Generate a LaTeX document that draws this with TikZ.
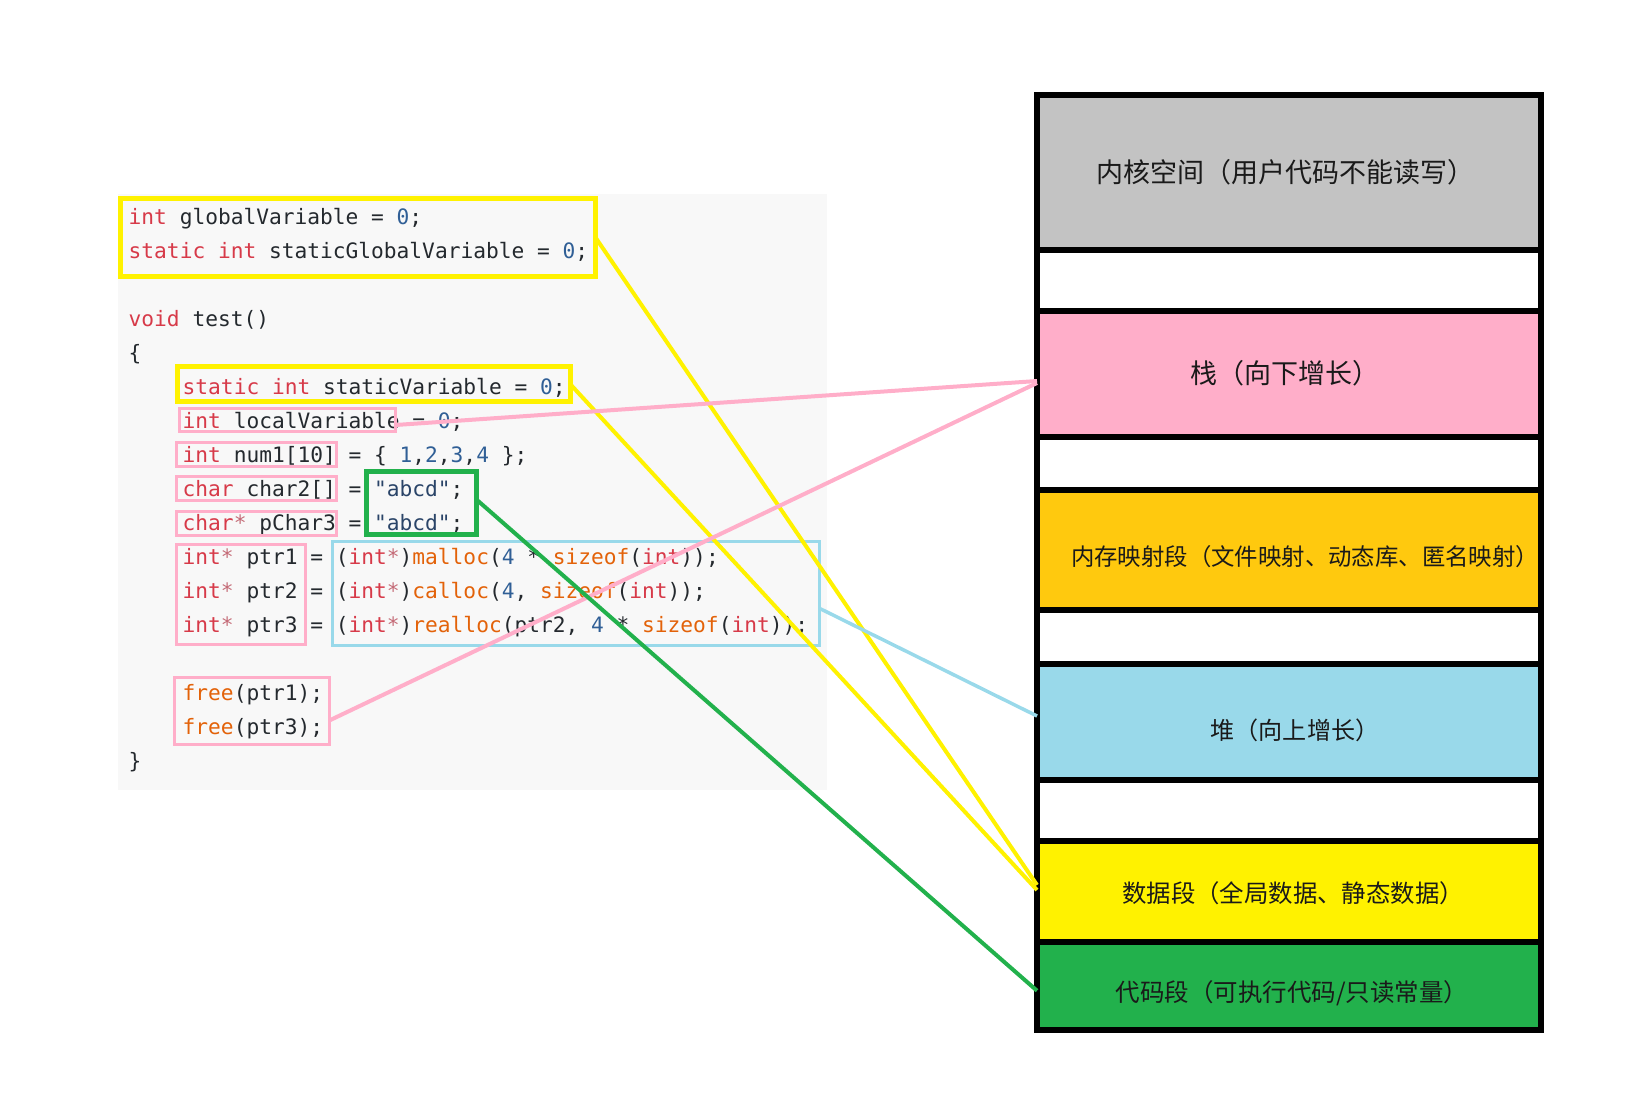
\documentclass[tikz,border=0pt]{standalone}
\usepackage{fontspec}
\newfontfamily\codefont[WordSpace={1,0,0}]{DejaVu Sans Mono}
\newfontfamily\cjk{Noto Sans CJK SC}
\definecolor{codebg}{HTML}{F8F8F8}
\definecolor{codetxt}{HTML}{24292E}
\definecolor{kwred}{HTML}{D73A49}
\definecolor{fnorange}{HTML}{E36209}
\definecolor{numblue}{HTML}{305F96}
\definecolor{strblue}{HTML}{2A4468}
\definecolor{starpink}{HTML}{C46A76}
\definecolor{myyellow}{HTML}{FFF200}
\definecolor{mypink}{HTML}{FFAEC9}
\definecolor{mygreen}{HTML}{22B14C}
\definecolor{myblue}{HTML}{99D9EA}
\definecolor{mygray}{HTML}{C3C3C3}
\definecolor{myorange}{HTML}{FFC90E}
\definecolor{labtxt}{HTML}{1A1A1A}
\newcommand\ckw[1]{\textcolor{kwred}{#1}}
\newcommand\cfn[1]{\textcolor{fnorange}{#1}}
\newcommand\cnum[1]{\textcolor{numblue}{#1}}
\newcommand\cstr[1]{\textcolor{strblue}{#1}}
\newcommand\cstar{\textcolor{starpink}{*}}
\begin{document}
\begin{tikzpicture}[x=1pt,y=-1pt,
  codeline/.style={anchor=base west, inner sep=0pt, outer sep=0pt,
    font=\codefont\fontsize{21.2}{34}\selectfont, text=codetxt},
  cbox/.style={draw, inner sep=0pt, outer sep=0pt, anchor=north west},
  ybox/.style={cbox, draw=myyellow, line width=5pt},
  pbox/.style={cbox, draw=mypink, line width=3pt},
  gbox/.style={cbox, draw=mygreen, line width=5pt},
  bbox/.style={cbox, draw=myblue, line width=3pt},
  seg/.style={draw=black, line width=6pt, inner sep=0pt, outer sep=0pt,
    anchor=north west, minimum width=504pt},
  lab/.style={inner sep=0pt, text=labtxt},
  conn/.style={line width=4pt}
]
\useasboundingbox (0,0) rectangle (1647,1103);
% code background
\fill[codebg] (118,194) rectangle (827,790);
% code lines
\node[codeline] (l0) at (128.7,224) {\ckw{int} globalVariable = \cnum{0};};
\node[codeline] (l1) at (128.7,258) {\ckw{static} \ckw{int} staticGlobalVariable = \cnum{0};};
\node[codeline] (l3) at (128.7,326) {\ckw{void} test()};
\node[codeline] (l4) at (128.7,360) {\{};
\node[codeline] (l5) at (182.7,394) {\ckw{static} \ckw{int} staticVariable = \cnum{0};};
\node[codeline] (l6) at (182.7,428) {\ckw{int} localVariable = \cnum{0};};
\node[codeline] (l7) at (182.7,462) {\ckw{int} num1[10] = \{ \cnum{1},\cnum{2},\cnum{3},\cnum{4} \};};
\node[codeline] (l8) at (182.7,496) {\ckw{char} char2[] = \cstr{"abcd"};};
\node[codeline] (l9) at (182.7,530) {\ckw{char}\cstar{} pChar3 = \cstr{"abcd"};};
\node[codeline] (l10) at (182.7,564) {\ckw{int}\cstar{} ptr1 = (\ckw{int}\cstar{})\cfn{malloc}(\cnum{4} * \cfn{sizeof}(\ckw{int}));};
\node[codeline] (l11) at (182.7,598) {\ckw{int}\cstar{} ptr2 = (\ckw{int}\cstar{})\cfn{calloc}(\cnum{4}, \cfn{sizeof}(\ckw{int}));};
\node[codeline] (l12) at (182.7,632) {\ckw{int}\cstar{} ptr3 = (\ckw{int}\cstar{})\cfn{realloc}(ptr2, \cnum{4} * \cfn{sizeof}(\ckw{int}));};
\node[codeline] (l14) at (182.7,700) {\cfn{free}(ptr1);};
\node[codeline] (l15) at (182.7,734) {\cfn{free}(ptr3);};
\node[codeline] (l16) at (128.7,768) {\}};
% code boxes
\node[ybox, minimum width=475pt, minimum height=78pt] (yglob) at (120.5,198.5) {};
\node[ybox, minimum width=392.9pt, minimum height=35pt] (ystat) at (177.2,366.5) {};
\node[pbox, minimum width=216pt, minimum height=22.4pt] (plocal) at (179.5,408.8) {};
\node[pbox, minimum width=160.2pt, minimum height=23.6pt] (pnum) at (176.2,442.5) {};
\node[pbox, minimum width=160.2pt, minimum height=24.4pt] (pchar) at (176.2,476.5) {};
\node[pbox, minimum width=160.2pt, minimum height=24.3pt] (ppchar) at (176.2,511.5) {};
\node[gbox, minimum width=109.7pt, minimum height=63pt] (gstr) at (366.5,471.8) {};
\node[pbox, minimum width=128.4pt, minimum height=99.7pt] (pptr) at (176.8,544.5) {};
\node[bbox, minimum width=486.7pt, minimum height=104.3pt] (bheap) at (332.8,541.2) {};
\node[pbox, minimum width=154.9pt, minimum height=66.7pt] (pfree) at (174.1,677.3) {};
% memory layout
\node[seg, fill=mygray, minimum height=155pt] (kernel) at (1037,95) {};
\node[seg, fill=white, minimum height=61pt] (gap1) at (1037,250) {};
\node[seg, fill=mypink, minimum height=126pt] (stack) at (1037,311) {};
\node[seg, fill=white, minimum height=53pt] (gap2) at (1037,437) {};
\node[seg, fill=myorange, minimum height=120pt] (mmap) at (1037,490) {};
\node[seg, fill=white, minimum height=54pt] (gap3) at (1037,610) {};
\node[seg, fill=myblue, minimum height=116pt] (heap) at (1037,664) {};
\node[seg, fill=white, minimum height=61pt] (gap4) at (1037,780) {};
\node[seg, fill=myyellow, minimum height=101pt] (data) at (1037,841) {};
\node[seg, fill=mygreen, minimum height=88pt] (code) at (1037,942) {};
% labels
\node[lab, font=\cjk\fontsize{27}{30}\selectfont] (kernelL) at (1285,172) {内核空间（用户代码不能读写）};
\node[lab, font=\cjk\fontsize{27}{30}\selectfont] (stackL) at (1285,373) {栈（向下增长）};
\node[lab, font=\cjk\fontsize{23.4}{28}\selectfont] (mmapL) at (1305,557) {内存映射段（文件映射、动态库、匿名映射）};
\node[lab, font=\cjk\fontsize{24.1}{28}\selectfont] (heapL) at (1295,730) {堆（向上增长）};
\node[lab, font=\cjk\fontsize{24.4}{28}\selectfont] (dataL) at (1293,893.5) {数据段（全局数据、静态数据）};
\node[lab, font=\cjk\fontsize{24.5}{28}\selectfont] (codeL) at (1292,993) {代码段（可执行代码/只读常量）};
% connectors
\draw[conn, draw=myyellow] (yglob.east) -- ([yshift=6.5pt]data.west);
\draw[conn, draw=myyellow] (ystat.east) -- ([yshift=1.5pt]data.west);
\draw[conn, draw=mypink] ([yshift=-5pt]plocal.east) -- ([yshift=-7pt]stack.west);
\draw[conn, draw=mypink] ([yshift=-10pt]pfree.east) -- ([yshift=-9pt]stack.west);
\draw[conn, draw=myblue, line width=3.5pt] ([yshift=-15pt]bheap.east) -- ([yshift=6pt]heap.west);
\draw[conn, draw=mygreen] ([yshift=4pt]gstr.east) -- ([yshift=-4.7pt]code.west);
\end{tikzpicture}
\end{document}
